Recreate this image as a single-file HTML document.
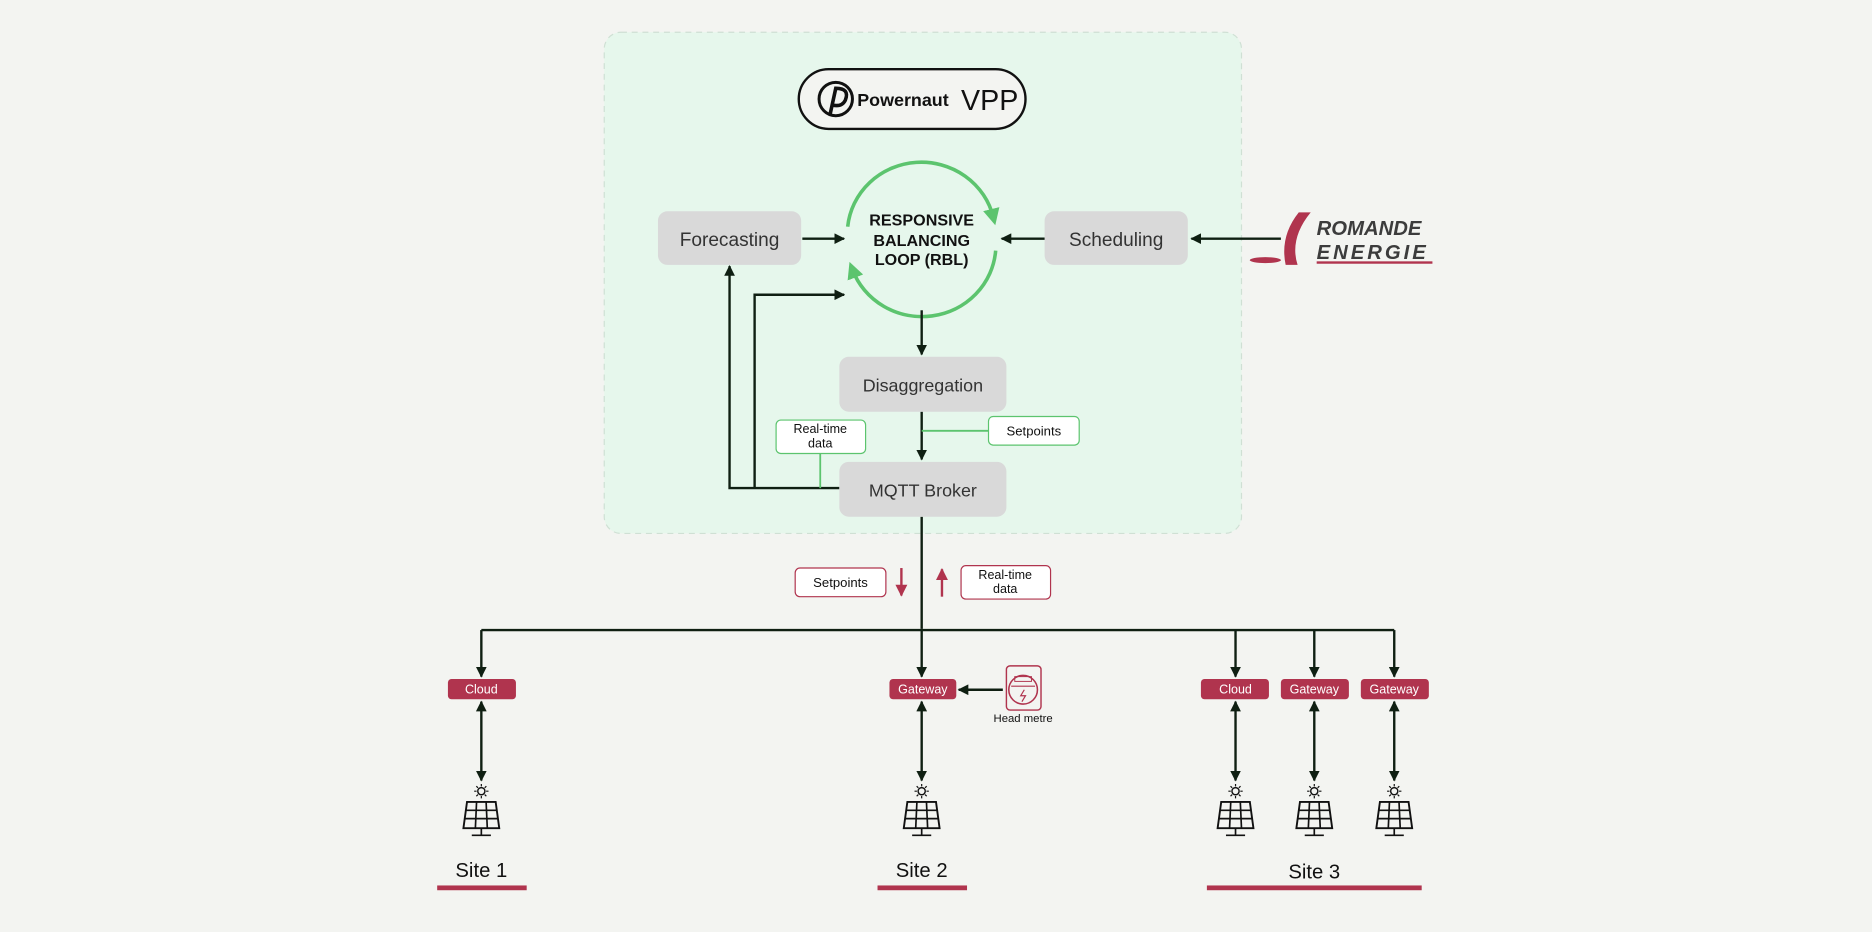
<!DOCTYPE html>
<html><head><meta charset="utf-8"><style>
html,body{margin:0;padding:0;background:#f3f4f1;}
svg{display:block;font-family:"Liberation Sans",sans-serif;}
</style></head><body>
<svg width="1872" height="932" viewBox="0 0 1568 781" xmlns="http://www.w3.org/2000/svg">
<defs>
<marker id="a" viewBox="0 0 10 10" refX="9" refY="5" markerWidth="9" markerHeight="9" markerUnits="userSpaceOnUse" orient="auto-start-reverse"><path d="M0,0L10,5L0,10z" fill="#0f1f12"/></marker>
<marker id="r" viewBox="0 0 10 10" refX="9" refY="5" markerWidth="10" markerHeight="10" markerUnits="userSpaceOnUse" orient="auto"><path d="M0,0L10,5L0,10z" fill="#b0344e"/></marker>
<marker id="g" viewBox="0 0 10 10" refX="5" refY="5" markerWidth="14" markerHeight="14" markerUnits="userSpaceOnUse" orient="auto"><path d="M0,0L10,5L0,10z" fill="#5cc46e"/></marker>
<g id="panel">
 <circle cx="0" cy="-9" r="3" fill="none" stroke="#111" stroke-width="1.2"/>
 <path d="M0,-15v2M0,-5v2M-6,-9h2M4,-9h2M-4.2,-13.2l1.4,1.4M2.8,-6.2l1.4,1.4M4.2,-13.2l-1.4,1.4M-2.8,-6.2l-1.4,1.4" stroke="#111" stroke-width="1"/>
 <path d="M-15,22L-12,0H12L15,22Z" fill="none" stroke="#111" stroke-width="1.6"/>
 <path d="M-13,7H13M-14,14H14M-4,0L-5,22M4,0L5,22M0,22V28M-8,28H8" stroke="#111" stroke-width="1.4" fill="none"/>
</g>
</defs>
<rect x="506" y="27" width="534" height="420" rx="14" fill="#e6f7ec" stroke="#cfe0d4" stroke-dasharray="5,4"/>
<rect x="669" y="58" width="190" height="50" rx="25" fill="#f3f4f1" stroke="#111" stroke-width="2"/>
<circle cx="700" cy="83" r="14" fill="none" stroke="#111" stroke-width="2.5"/>
<path d="M695,97L700,74Q712,74 708,84Q705,90 697,88" fill="none" stroke="#111" stroke-width="3"/>
<text x="718" y="89" font-size="15" font-weight="bold" fill="#111">Powernaut</text>
<text x="805" y="92" font-size="24" fill="#111">VPP</text>
<rect x="551" y="177" width="120" height="45" rx="8" fill="#d9d9d9"/>
<text x="611" y="206" font-size="16" text-anchor="middle" fill="#333">Forecasting</text>
<rect x="875" y="177" width="120" height="45" rx="8" fill="#d9d9d9"/>
<text x="935" y="206" font-size="16" text-anchor="middle" fill="#333">Scheduling</text>
<path d="M710,190A62,60 0 0 1 832,182" fill="none" stroke="#5cc46e" stroke-width="3" marker-end="url(#g)"/>
<path d="M834,210A62,60 0 0 1 714,226" fill="none" stroke="#5cc46e" stroke-width="3" marker-end="url(#g)"/>
<text x="772" y="189" font-size="13.5" font-weight="bold" text-anchor="middle" fill="#111">RESPONSIVE</text>
<text x="772" y="206" font-size="13.5" font-weight="bold" text-anchor="middle" fill="#111">BALANCING</text>
<text x="772" y="222" font-size="13.5" font-weight="bold" text-anchor="middle" fill="#111">LOOP (RBL)</text>
<g stroke="#0f1f12" stroke-width="2" fill="none">
<path d="M672,200H707" marker-end="url(#a)"/>
<path d="M875,200H839" marker-end="url(#a)"/>
<path d="M1073,200H998" marker-end="url(#a)"/>
<path d="M772,260V297" marker-end="url(#a)"/>
<path d="M772,345V385" marker-end="url(#a)"/>
<path d="M703,409H611V223" marker-end="url(#a)"/>
<path d="M632,409V247H707" marker-end="url(#a)"/>
<path d="M772,433V527"/>
<path d="M403,528H1168"/>
<path d="M772,528V567" marker-end="url(#a)"/>
<path d="M403,528V567" marker-end="url(#a)"/>
<path d="M1035,528V567" marker-end="url(#a)"/>
<path d="M1101,528V567" marker-end="url(#a)"/>
<path d="M1168,528V567" marker-end="url(#a)"/>
<path d="M840,578H803" marker-end="url(#a)"/>
<path d="M403,588V654" marker-start="url(#a)" marker-end="url(#a)"/>
<path d="M772,588V654" marker-start="url(#a)" marker-end="url(#a)"/>
<path d="M1035,588V654" marker-start="url(#a)" marker-end="url(#a)"/>
<path d="M1101,588V654" marker-start="url(#a)" marker-end="url(#a)"/>
<path d="M1168,588V654" marker-start="url(#a)" marker-end="url(#a)"/>
</g>
<rect x="703" y="299" width="140" height="46" rx="8" fill="#d9d9d9"/>
<text x="773" y="328" font-size="15" text-anchor="middle" fill="#333">Disaggregation</text>
<rect x="703" y="387" width="140" height="46" rx="8" fill="#d9d9d9"/>
<text x="773" y="416" font-size="15" text-anchor="middle" fill="#333">MQTT Broker</text>
<path d="M772,361H828M687,380V409" stroke="#5cc46e" stroke-width="1.5"/>
<rect x="828" y="349" width="76" height="24" rx="4" fill="#fff" stroke="#5cc46e"/>
<text x="866" y="365" font-size="11" text-anchor="middle" fill="#111">Setpoints</text>
<rect x="650" y="352" width="75" height="28" rx="4" fill="#fff" stroke="#5cc46e"/>
<text x="687" y="363" font-size="10.5" text-anchor="middle" fill="#111">Real-time</text>
<text x="687" y="375" font-size="10.5" text-anchor="middle" fill="#111">data</text>
<rect x="666" y="476" width="76" height="24" rx="4" fill="#fff" stroke="#b0344e"/>
<text x="704" y="492" font-size="11" text-anchor="middle" fill="#111">Setpoints</text>
<rect x="805" y="474" width="75" height="28" rx="4" fill="#fff" stroke="#b0344e"/>
<text x="842" y="485" font-size="10.5" text-anchor="middle" fill="#111">Real-time</text>
<text x="842" y="497" font-size="10.5" text-anchor="middle" fill="#111">data</text>
<path d="M755,476V499" stroke="#b0344e" stroke-width="2" marker-end="url(#r)"/>
<path d="M789,500V477" stroke="#b0344e" stroke-width="2" marker-end="url(#r)"/>
<path d="M1098,178Q1080,200 1087,222L1077,222Q1072,198 1088,178Z" fill="#b0344e"/>
<ellipse cx="1060" cy="218" rx="13" ry="2.5" fill="#b0344e"/>
<text x="1103" y="197" font-size="17" font-style="italic" font-weight="bold" fill="#3c3c3c">ROMANDE</text>
<text x="1103" y="217" font-size="17" font-style="italic" font-weight="bold" fill="#3c3c3c" letter-spacing="2.5">ENERGIE</text>
<rect x="1103" y="219" width="97" height="2" fill="#b0344e"/>
<g font-size="10.5" fill="#fff" text-anchor="middle">
<rect x="375" y="569" width="57" height="17" rx="3" fill="#b0344e"/><text x="403" y="581">Cloud</text>
<rect x="745" y="569" width="56" height="17" rx="3" fill="#b0344e"/><text x="773" y="581">Gateway</text>
<rect x="1006" y="569" width="57" height="17" rx="3" fill="#b0344e"/><text x="1035" y="581">Cloud</text>
<rect x="1073" y="569" width="57" height="17" rx="3" fill="#b0344e"/><text x="1101" y="581">Gateway</text>
<rect x="1140" y="569" width="57" height="17" rx="3" fill="#b0344e"/><text x="1168" y="581">Gateway</text>
</g>
<rect x="843" y="558" width="29" height="37" rx="3" fill="none" stroke="#b0344e" stroke-width="1.2"/>
<circle cx="857" cy="578" r="12" fill="none" stroke="#b0344e" stroke-width="1.3"/>
<rect x="850" y="567" width="14" height="4" fill="none" stroke="#b0344e" stroke-width="0.8"/>
<path d="M847,575H867M858,578L855,583H859L856,588" fill="none" stroke="#b0344e" stroke-width="1"/>
<text x="857" y="605" font-size="9.5" text-anchor="middle" fill="#111">Head metre</text>
<use href="#panel" x="403" y="672"/>
<use href="#panel" x="772" y="672"/>
<use href="#panel" x="1035" y="672"/>
<use href="#panel" x="1101" y="672"/>
<use href="#panel" x="1168" y="672"/>
<g font-size="17" text-anchor="middle" fill="#111">
<text x="403" y="735">Site 1</text>
<text x="772" y="735">Site 2</text>
<text x="1101" y="736">Site 3</text>
</g>
<rect x="366" y="742" width="75" height="4" fill="#b0344e"/>
<rect x="735" y="742" width="75" height="4" fill="#b0344e"/>
<rect x="1011" y="742" width="180" height="4" fill="#b0344e"/>
</svg>
</body></html>
